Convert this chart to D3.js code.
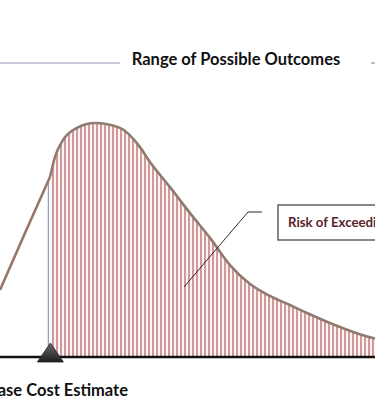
<!DOCTYPE html>
<html>
<head>
<meta charset="utf-8">
<script src="https://cdn.jsdelivr.net/npm/d3@7"></script>
<style>
html,body{margin:0;padding:0;background:#fff;overflow:hidden}
svg{display:block}
</style>
</head>
<body>
<svg id="chart" width="375" height="402"></svg>
<script>
// cost (arbitrary units) and relative probability density
const costs   = [0, 6.67, 13.33, 14.67, 16.8, 20.53, 25.33, 32, 37.33, 40, 45.33, 50.67, 56, 61.33, 66.67, 72, 77.33, 81.87, 90.67, 99.47, 101];
const density = [28.6, 53, 76.9, 85.5, 92.7, 97.9, 100, 97.9, 89.7, 83.3, 72.6, 61.5, 50.9, 39.3, 31.2, 26.1, 22.2, 18.8, 12.8, 8.1, 7.6];
const baseCost = 12.9;
const titleText = "Range of Possible Outcomes";
const calloutText = "Risk of Exceeding Base Cost Estimate";
const baseLabel = "Base Cost Estimate";

const W = 375, H = 402;
const svg = d3.select("#chart");
const x = d3.scaleLinear().domain([0, 100]).range([0, 375]);
const y = d3.scaleLinear().domain([0, 100]).range([357, 123]);

const pts = costs.map((c, i) => ({c, d: density[i]}));

const defs = svg.append("defs");
const pat = defs.append("pattern").attr("id", "hatch")
  .attr("patternUnits", "userSpaceOnUse").attr("width", 4).attr("height", 4);
pat.append("rect").attr("width", 4).attr("height", 4).attr("fill", "#fcf5f5");
pat.append("line").attr("x1", 1).attr("x2", 1).attr("y1", 0).attr("y2", 4)
  .attr("stroke", "#c27070").attr("stroke-width", 1.4);

defs.append("clipPath").attr("id", "rightOfBase")
  .append("rect").attr("x", x(baseCost)).attr("y", 0)
  .attr("width", W - x(baseCost)).attr("height", H);

const tri = defs.append("linearGradient").attr("id", "triGrad")
  .attr("x1", 0).attr("x2", 0).attr("y1", 0).attr("y2", 1);
tri.append("stop").attr("offset", "0%").attr("stop-color", "#6a6a6a");
tri.append("stop").attr("offset", "100%").attr("stop-color", "#1e1e1e");

const curve = d3.curveMonotoneX;
const area = d3.area().x(p => x(p.c)).y0(y(0)).y1(p => y(p.d)).curve(curve);
const line = d3.line().x(p => x(p.c)).y(p => y(p.d)).curve(curve);

// left rising part drawn straight (first three points), rest smooth
const leftPts = pts.slice(0, 3);
const rightPts = pts.slice(2);

// shaded region (right of base estimate)
svg.append("path").datum(rightPts).attr("d", area)
  .attr("fill", "url(#hatch)").attr("clip-path", "url(#rightOfBase)");

// boundary at base estimate
const bx = x(baseCost);
const dAtBase = d3.scaleLinear().domain(costs).range(density)(baseCost);
svg.append("line").attr("x1", bx).attr("x2", bx)
  .attr("y1", y(dAtBase) + 2).attr("y2", y(0))
  .attr("stroke", "#8e9cc2").attr("stroke-width", 1.2);

// curve outline
svg.append("path").datum(leftPts).attr("d", d3.line().x(p => x(p.c)).y(p => y(p.d)))
  .attr("fill", "none").attr("stroke", "#9a7666").attr("stroke-width", 2.6);
svg.append("path").datum(rightPts).attr("d", line)
  .attr("fill", "none").attr("stroke", "#8f7b72").attr("stroke-width", 2.6);

// baseline
svg.append("line").attr("x1", 0).attr("x2", W).attr("y1", y(0)).attr("y2", y(0))
  .attr("stroke", "#111").attr("stroke-width", 2.6);

// triangle marker
svg.append("path")
  .attr("d", `M${bx + 2},${y(0) - 14} L${bx + 15},${y(0) + 5} L${bx - 11},${y(0) + 5} Z`)
  .attr("fill", "url(#triGrad)").attr("stroke", "#222").attr("stroke-width", 0.8);

// title with range line
svg.append("line").attr("x1", 0).attr("x2", 120).attr("y1", 63).attr("y2", 63)
  .attr("stroke", "#8d93b4").attr("stroke-width", 1.2);
svg.append("line").attr("x1", 371).attr("x2", 375).attr("y1", 63).attr("y2", 63)
  .attr("stroke", "#8d93b4").attr("stroke-width", 1.2);
svg.append("text").attr("x", 236).attr("y", 65)
  .attr("text-anchor", "middle")
  .attr("font-family", "Lato, 'Open Sans', sans-serif").attr("font-weight", "bold")
  .attr("font-size", 16.5).attr("fill", "#111").text(titleText);

// callout
svg.append("rect").attr("x", 278).attr("y", 205).attr("width", 140).attr("height", 35)
  .attr("fill", "#fff").attr("stroke", "#555").attr("stroke-width", 1.4);
svg.append("text").attr("x", 0).attr("y", 0)
  .attr("transform", "translate(288,227) scale(0.98,1)")
  .attr("font-family", "Lato, 'Open Sans', sans-serif").attr("font-weight", "bold")
  .attr("font-size", 13.5).attr("fill", "#5a1f2a").text(calloutText);
svg.append("path").attr("d", "M262,212 L248,212 L184,287")
  .attr("fill", "none").attr("stroke", "#2a2a2a").attr("stroke-width", 1);

// base label
svg.append("text").attr("x", 128).attr("y", 396).attr("text-anchor", "end")
  .attr("font-family", "Lato, 'Open Sans', sans-serif").attr("font-weight", "bold")
  .attr("font-size", 16.5).attr("fill", "#111").text(baseLabel);
</script>
</body>
</html>
